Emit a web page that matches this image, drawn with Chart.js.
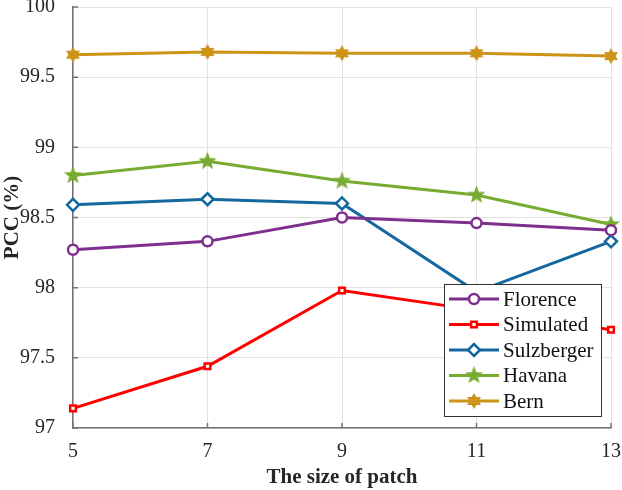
<!DOCTYPE html>
<html>
<head>
<meta charset="utf-8">
<script src="https://cdn.jsdelivr.net/npm/chart.js@4.4.0/dist/chart.umd.min.js"></script>
<style>
  html, body { margin: 0; padding: 0; background: #fff; }
  #wrap { width: 622px; height: 490px; }
</style>
</head>
<body>
<div id="wrap"><canvas id="pccChart"></canvas></div>
<script>
// Данные графика
const patchSizes = ['5', '7', '9', '11', '13'];
const florence   = [98.27, 98.33, 98.50, 98.46, 98.41];
const simulated  = [97.14, 97.44, 97.98, 97.84, 97.70];
const sulzberger = [98.59, 98.63, 98.60, 97.97, 98.33];
const havana     = [98.80, 98.90, 98.76, 98.66, 98.45];
const bern       = [99.66, 99.68, 99.67, 99.67, 99.65];
const yTicks     = [97, 97.5, 98, 98.5, 99, 99.5, 100];

const serifFamily = '"Liberation Serif", serif';

// Звёзды (как маркеры MATLAB) рисуем на маленьких canvas
function starMarker(points, outer, inner, color) {
    const size = Math.ceil(outer * 2 + 2);
    const c = document.createElement('canvas');
    c.width = size; c.height = size;
    const g = c.getContext('2d');
    const cx = size / 2, cy = size / 2;
    g.beginPath();
    for (let i = 0; i < points * 2; i++) {
        const r = i % 2 === 0 ? outer : inner;
        const a = -Math.PI / 2 + i * Math.PI / points;
        const px = cx + r * Math.cos(a), py = cy + r * Math.sin(a);
        if (i === 0) g.moveTo(px, py); else g.lineTo(px, py);
    }
    g.closePath();
    g.fillStyle = color;
    g.fill();
    return c;
}

const colors = {
    florence: '#7E2F8E',
    simulated: '#FF0000',
    sulzberger: '#15689F',
    havana: '#77AC30',
    bern: '#CC9418'
};

const pentagram = starMarker(5, 9.5, 4, colors.havana);
const hexagram = starMarker(6, 8, 4.6, colors.bern);

function series(label, data, color, style, radius, fill) {
    return {
        label: label,
        data: data,
        borderColor: color,
        backgroundColor: fill,
        borderWidth: 3,
        pointStyle: style,
        pointRadius: radius,
        pointBorderWidth: 2.5,
        pointBorderColor: color,
        pointBackgroundColor: fill,
        tension: 0,
        clip: false
    };
}

// Легенда внутри области графика (справа снизу)
const boxLegend = {
    id: 'boxLegend',
    afterDraw(chart) {
        const ctx = chart.ctx;
        const area = chart.chartArea;
        const w = 157, h = 132;
        const x0 = area.right - 10 - w, y0 = area.bottom - 12 - h;
        ctx.save();
        ctx.fillStyle = '#fff';
        ctx.fillRect(x0, y0, w, h);
        ctx.strokeStyle = '#333';
        ctx.lineWidth = 1;
        ctx.strokeRect(x0 + 0.5, y0 + 0.5, w, h);
        chart.data.datasets.forEach((ds, i) => {
            const y = y0 + 15 + i * 25.5;
            ctx.strokeStyle = ds.borderColor;
            ctx.lineWidth = 3;
            ctx.beginPath();
            ctx.moveTo(x0 + 5, y);
            ctx.lineTo(x0 + 55, y);
            ctx.stroke();
            ctx.fillStyle = ds.pointBackgroundColor;
            ctx.lineWidth = ds.pointBorderWidth;
            Chart.helpers.drawPoint(ctx, {
                pointStyle: ds.pointStyle,
                radius: ds.pointRadius,
                rotation: 0,
                borderWidth: ds.pointBorderWidth
            }, x0 + 30, y);
        });
        // подписи отдельным проходом
        ctx.font = '21px ' + serifFamily;
        ctx.textBaseline = 'middle';
        ctx.textAlign = 'left';
        ctx.fillStyle = '#111';
        chart.data.datasets.forEach((ds, i) => {
            const y = y0 + 15 + i * 25.5;
            ctx.fillText(ds.label, x0 + 59, y + 1);
        });
        ctx.restore();
    }
};

// Короткие риски внутрь области, как в MATLAB
const innerTicks = {
    id: 'innerTicks',
    afterDatasetsDraw(chart) {
        const ctx = chart.ctx;
        const xs = chart.scales.x, ys = chart.scales.y;
        ctx.save();
        ctx.strokeStyle = '#737373';
        ctx.lineWidth = 1.5;
        ctx.beginPath();
        xs.ticks.forEach((t, i) => {
            const px = xs.getPixelForTick(i);
            ctx.moveTo(px, ys.bottom);
            ctx.lineTo(px, ys.bottom - 5);
        });
        ys.ticks.forEach((t, i) => {
            const py = ys.getPixelForTick(i);
            ctx.moveTo(xs.left, py);
            ctx.lineTo(xs.left + 5, py);
        });
        ctx.stroke();
        ctx.restore();
    }
};

new Chart(document.getElementById('pccChart'), {
    type: 'line',
    data: {
        labels: patchSizes,
        datasets: [
            series('Florence', florence, colors.florence, 'circle', 5, '#fff'),
            series('Simulated', simulated, colors.simulated, 'rect', 4, '#fff'),
            series('Sulzberger', sulzberger, colors.sulzberger, 'rectRot', 6, '#fff'),
            series('Havana', havana, colors.havana, pentagram, 9, colors.havana),
            series('Bern', bern, colors.bern, hexagram, 8, colors.bern)
        ]
    },
    options: {
        responsive: true,
        maintainAspectRatio: false,
        animation: false,
        layout: {
            autoPadding: false,
            padding: { top: 7, right: 11, left: 0, bottom: 0 }
        },
        plugins: {
            legend: { display: false },
            tooltip: { enabled: false }
        },
        scales: {
            x: {
                offset: false,
                grid: { color: '#e3e3e3', lineWidth: 1, drawTicks: false },
                border: { color: '#737373', width: 1.5 },
                ticks: {
                    padding: 12,
                    color: '#262626',
                    maxRotation: 0,
                    font: { family: serifFamily, size: 20 }
                },
                title: {
                    display: true,
                    text: 'The size of patch',
                    color: '#262626',
                    padding: { top: 2, bottom: 0 },
                    font: { family: serifFamily, size: 21, weight: 'bold' }
                },
                afterFit: function(scale) {
                    scale.height = 62;
                    scale.paddingLeft = 0;
                    scale.paddingRight = 0;
                }
            },
            y: {
                min: 97,
                max: 100,
                afterBuildTicks: function(scale) {
                    scale.ticks = yTicks.map(v => ({ value: v }));
                },
                grid: { color: '#e3e3e3', lineWidth: 1, drawTicks: false },
                border: { color: '#737373', width: 1.5 },
                ticks: {
                    padding: 18,
                    color: '#262626',
                    font: { family: serifFamily, size: 20 },
                    callback: function(v) { return String(v); }
                },
                title: {
                    display: true,
                    text: 'PCC (%)',
                    color: '#262626',
                    padding: { top: 0, bottom: 2 },
                    font: { family: serifFamily, size: 21, weight: 'bold' }
                },
                afterFit: function(scale) {
                    scale.width = 73;
                    scale.paddingTop = 0;
                    scale.paddingBottom = 0;
                }
            }
        }
    },
    plugins: [innerTicks, boxLegend]
});
</script>
</body>
</html>
